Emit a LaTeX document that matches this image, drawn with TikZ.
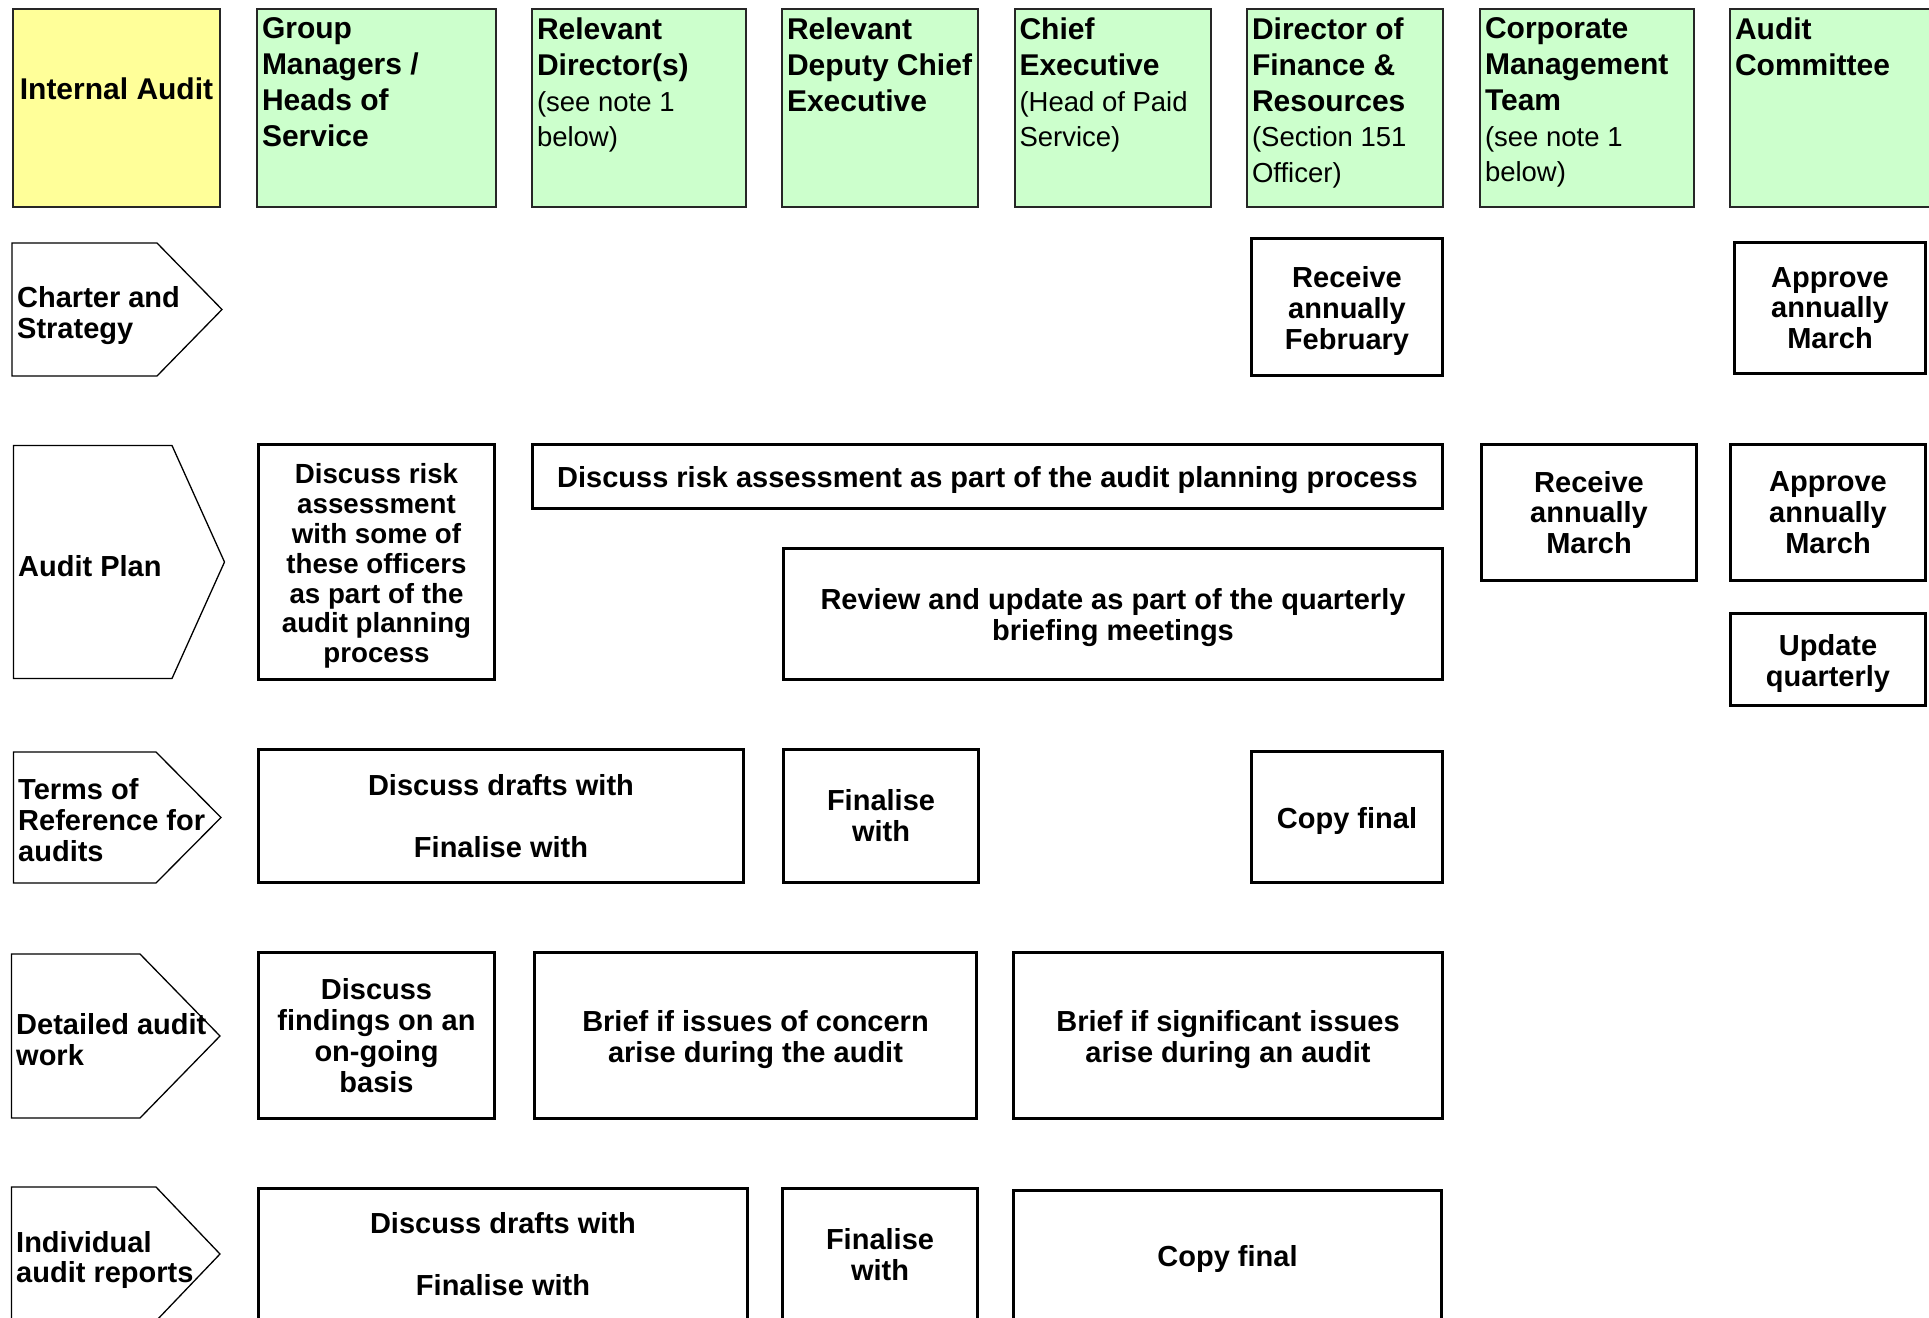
\documentclass[tikz,border=0pt]{standalone}
\usepackage{fontspec}
\setmainfont{Liberation Sans}
\usetikzlibrary{positioning}

\definecolor{auditYellow}{HTML}{FFFF99}
\definecolor{officerGreen}{HTML}{CCFFCC}

\newcommand{\subnote}[1]{{\mdseries\fontsize{27.5}{35.7}\selectfont #1}}
\newcommand{\lift}{\rule{0pt}{28.5pt}}

\tikzset{
  headbox/.style={draw=black!85, line width=2pt, minimum height=198pt, inner sep=0pt, outer sep=0pt},
  headtext/.style={inner sep=0pt, outer sep=0pt, align=left, font=\fontsize{30}{35.7}\selectfont\bfseries},
  taskbox/.style={draw, line width=3pt, fill=white, align=center, inner sep=0pt, outer sep=0pt, font=\fontsize{29}{30.8}\selectfont\bfseries},
  rowtext/.style={inner sep=0pt, anchor=west, align=left, font=\fontsize{29}{30.8}\selectfont\bfseries},
  rowarrow/.style={draw, line width=1.3pt, line join=miter}
}

\begin{document}
\begin{tikzpicture}[x=1pt, y=-1pt]
\useasboundingbox (0,0) rectangle (1929,1317);

% column headings
\node[headbox, fill=auditYellow, minimum width=207pt] (ia) at (116.5,108) {};
\node[headbox, fill=officerGreen, minimum width=239pt] (grp) at (376.5,108) {};
\node[headbox, fill=officerGreen, minimum width=214pt] (relDir) at (639,108) {};
\node[headbox, fill=officerGreen, minimum width=196pt] (relDce) at (880,108) {};
\node[headbox, fill=officerGreen, minimum width=196pt] (chiefExec) at (1112.5,108) {};
\node[headbox, fill=officerGreen, minimum width=196pt] (dirFin) at (1345,108) {};
\node[headbox, fill=officerGreen, minimum width=214pt] (cmt) at (1587,108) {};
\node[headbox, fill=officerGreen, minimum width=209pt] (auditCttee) at (1834.5,108) {};

\node[headtext, below=69pt of ia.north] (iaText) {Internal Audit};
\node[headtext, below right=9pt and 5pt of grp.north west] (grpText) {Group\\Managers /\\Heads of\\Service};
\node[headtext, below right=9pt and 5pt of relDir.north west] (relDirText) {Relevant\\Director(s)\\\subnote{(see note 1}\\\subnote{below)}};
\node[headtext, below right=9pt and 5pt of relDce.north west] (relDceText) {Relevant\\Deputy Chief\\Executive};
\node[headtext, below right=9pt and 5pt of chiefExec.north west] (chiefExecText) {Chief\\Executive\\\subnote{(Head of Paid}\\\subnote{Service)}};
\node[headtext, below right=9pt and 5pt of dirFin.north west] (dirFinText) {Director of\\Finance \&\\Resources\\\subnote{(Section 151}\\\subnote{Officer)}};
\node[headtext, below right=9pt and 5pt of cmt.north west] (cmtText) {Corporate\\Management\\Team\\\subnote{(see note 1}\\\subnote{below)}};
\node[headtext, below right=9pt and 5pt of auditCttee.north west] (auditCtteeText) {Audit\\Committee};

% row labels
\draw[rowarrow] (12,243) -- (157,243) -- (222,309.5) -- (157,376) -- (12,376) -- cycle;
\node[rowtext] (charter) at (17,315.5) {Charter and\\Strategy};
\draw[rowarrow] (13.5,445.5) -- (172,445.5) -- (224.5,562) -- (172,678.5) -- (13.5,678.5) -- cycle;
\node[rowtext] (plan) at (18,565.7) {Audit Plan};
\draw[rowarrow] (13.5,752) -- (156,752) -- (221,817.5) -- (156,883) -- (13.5,883) -- cycle;
\node[rowtext] (terms) at (18,820) {Terms of\\Reference for\\audits};
\draw[rowarrow] (11.5,954) -- (140,954) -- (220,1036) -- (140,1118) -- (11.5,1118) -- cycle;
\node[rowtext] (detailed) at (16,1039.7) {Detailed audit\\work};
\draw[rowarrow] (11.5,1187) -- (156,1187) -- (220,1254) -- (156,1321) -- (11.5,1321) -- cycle;
\node[rowtext] (reports) at (16,1260) {Individual\\audit reports};

% charter and strategy
\node[taskbox, minimum width=191pt, minimum height=137pt] (recFeb) at (1347,307) {\lift Receive\\annually\\February};
\node[taskbox, minimum width=191pt, minimum height=131pt] (appMarA) at (1830,308) {Approve\\annually\\March};

% audit plan
\node[taskbox, minimum width=236pt, minimum height=235pt, font=\fontsize{27.7}{29.8}\selectfont\bfseries] (riskSome) at (376.5,562) {\lift Discuss risk\\assessment\\with some of\\these officers\\as part of the\\audit planning\\process};
\node[taskbox, minimum width=910pt, minimum height=64pt] (riskAll) at (987.5,476.5) {\lift Discuss risk assessment as part of the audit planning process};
\node[taskbox, minimum width=659pt, minimum height=131pt] (reviewQtr) at (1113,614) {\lift Review and update as part of the quarterly\\briefing meetings};
\node[taskbox, minimum width=215pt, minimum height=136pt] (recMar) at (1589,512.5) {Receive\\annually\\March};
\node[taskbox, minimum width=195pt, minimum height=136pt] (appMarB) at (1828,512.5) {Approve\\annually\\March};
\node[taskbox, minimum width=195pt, minimum height=92pt] (updQtr) at (1828,659.5) {\lift Update\\quarterly};

% terms of reference
\node[taskbox, minimum width=485pt, minimum height=133pt] (draftsTor) at (501,816) {Discuss drafts with\\[31pt]Finalise with};
\node[taskbox, minimum width=195pt, minimum height=133pt] (finTor) at (881,816) {Finalise\\with};
\node[taskbox, minimum width=191pt, minimum height=131pt] (copyTor) at (1347,817) {\lift Copy final};

% detailed audit work
\node[taskbox, minimum width=236pt, minimum height=166pt] (findings) at (376.5,1035.5) {Discuss\\findings on an\\on-going\\basis};
\node[taskbox, minimum width=442pt, minimum height=166pt] (briefConcern) at (755.5,1035.5) {\lift Brief if issues of concern\\arise during the audit};
\node[taskbox, minimum width=429pt, minimum height=166pt] (briefSig) at (1228,1035.5) {\lift Brief if significant issues\\arise during an audit};

% individual audit reports
\node[taskbox, minimum width=489pt, minimum height=132pt] (draftsRep) at (503,1254.5) {Discuss drafts with\\[31pt]Finalise with};
\node[taskbox, minimum width=195pt, minimum height=132pt] (finRep) at (880,1254.5) {Finalise\\with};
\node[taskbox, minimum width=428pt, minimum height=130pt] (copyRep) at (1227.5,1255.5) {\lift Copy final};
\end{tikzpicture}
\end{document}
